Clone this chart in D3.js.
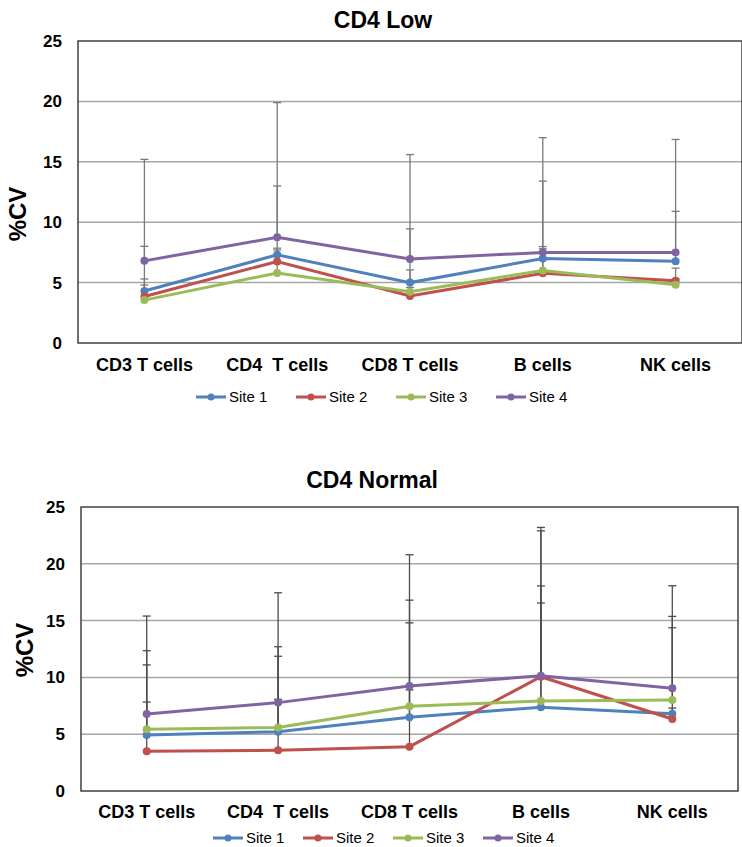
<!DOCTYPE html>
<html>
<head>
<meta charset="utf-8"/>
<script src="https://cdn.jsdelivr.net/npm/d3@7/dist/d3.min.js"></script>
<style>
  html,body { margin:0; padding:0; background:#fff; }
  svg { display:block; font-family:"Liberation Sans", Arial, sans-serif; }
  .xlab { white-space:pre; }
</style>
</head>
<body>
<svg width="742" height="847"></svg>
<script>
// categories + series names
const categories = ["CD3 T cells", "CD4  T cells", "CD8 T cells", "B cells", "NK cells"];
const siteNames  = ["Site 1", "Site 2", "Site 3", "Site 4"];
const siteColors = ["#4f81bd", "#c0504d", "#9bbb59", "#8064a2"];
const yTicks     = [0, 5, 10, 15, 20, 25];

// CD4 Low: %CV per site
const lowSite1 = [4.3, 7.3, 5.0, 7.0, 6.77];
const lowSite2 = [3.85, 6.75, 3.9, 5.77, 5.16];
const lowSite3 = [3.55, 5.8, 4.25, 6.0, 4.83];
const lowSite4 = [6.8, 8.75, 6.95, 7.5, 7.5];
// plus error bars
const lowErr1 = [1.0, 5.7, 4.45, 6.4, 4.13];
const lowErr2 = [4.15, 1.1, 2.15, 2.03, 1.04];
const lowErr3 = [1.25, 1.9, 0.35, 1.98, 0.47];
const lowErr4 = [8.4, 11.15, 8.65, 9.5, 9.35];

// CD4 Normal
const normSite1 = [4.93, 5.22, 6.5, 7.37, 6.8];
const normSite2 = [3.49, 3.58, 3.9, 10.06, 6.34];
const normSite3 = [5.43, 5.6, 7.45, 7.92, 8.01];
const normSite4 = [6.78, 7.78, 9.24, 10.15, 9.04];
const normErr1 = [2.9, 2.85, 2.4, 9.18, 0.5];
const normErr2 = [8.86, 9.12, 12.9, 12.84, 9.03];
const normErr3 = [5.67, 6.26, 7.35, 10.13, 6.36];
const normErr4 = [8.62, 9.67, 11.56, 13.05, 9.03];

const svg = d3.select("svg");

function drawChart(o) {
  const g = svg.append("g");
  const x = d3.scaleBand().domain(categories).range([o.left, o.right]);
  const y = d3.scaleLinear().domain([0, 25]).range([o.bottom, o.top]);
  const cx = d => x(d) + x.bandwidth()/2;

  // title
  g.append("text").attr("x", o.titleX).attr("y", o.titleY)
    .attr("text-anchor","middle").attr("font-size",23).attr("font-weight","bold")
    .text(o.title);

  // grid
  g.selectAll(".grid").data(yTicks.slice(1,-1)).join("line")
    .attr("x1", o.left).attr("x2", o.right)
    .attr("y1", d => y(d)).attr("y2", d => y(d))
    .attr("stroke","#a6a6a6").attr("stroke-width",1.5);

  // y axis labels
  const ya = g.append("g").attr("transform",`translate(${o.left},0)`)
    .call(d3.axisLeft(y).tickValues(yTicks).tickSize(0).tickPadding(16));
  ya.select(".domain").remove();
  ya.selectAll("text").attr("font-size",17).attr("font-weight","bold")
    .attr("font-family","Liberation Sans, Arial, sans-serif").attr("fill","#000");

  // x axis labels
  const xa = g.append("g").attr("transform",`translate(0,${o.bottom})`)
    .call(d3.axisBottom(x).tickSize(0).tickPadding(o.xPad));
  xa.select(".domain").remove();
  xa.selectAll("text").attr("class","xlab").attr("font-size",18).attr("font-weight","bold")
    .attr("font-family","Liberation Sans, Arial, sans-serif").attr("fill","#000");

  // y title
  g.append("text")
    .attr("transform",`translate(${o.yTitleX},${o.yTitleY}) rotate(-90)`)
    .attr("text-anchor","middle").attr("font-size",24).attr("font-weight","bold")
    .text("%CV");

  // plot frame
  g.append("rect").attr("x",o.left).attr("y",o.top)
    .attr("width",o.right-o.left).attr("height",o.bottom-o.top)
    .attr("fill","none").attr("stroke","#404040").attr("stroke-width",1.5);

  // error bars (plus only)
  o.series.forEach((s,i) => {
    const eb = g.append("g").attr("stroke",o.errColor).attr("stroke-width",1.3);
    categories.forEach((c,k) => {
      const v = s[k], top = v + o.errs[i][k];
      eb.append("line").attr("x1",cx(c)).attr("x2",cx(c))
        .attr("y1",y(v)).attr("y2",y(top));
      eb.append("line").attr("x1",cx(c)-4).attr("x2",cx(c)+4)
        .attr("y1",y(top)).attr("y2",y(top));
    });
  });

  // lines + markers
  const line = d3.line().x((d,k) => cx(categories[k])).y(d => y(d));
  o.series.forEach((s,i) => {
    g.append("path").datum(s).attr("d",line).attr("fill","none")
      .attr("stroke",siteColors[i]).attr("stroke-width",3);
    g.selectAll(null).data(s).join("circle")
      .attr("cx",(d,k) => cx(categories[k])).attr("cy",d => y(d)).attr("r",4)
      .attr("fill",siteColors[i]);
  });

  // legend
  const lg = g.append("g").attr("transform",`translate(${o.legX},${o.legY})`);
  siteNames.forEach((n,i) => {
    const it = lg.append("g").attr("transform",`translate(${i*o.legStep},0)`);
    it.append("line").attr("x1",0).attr("x2",30).attr("stroke",siteColors[i]).attr("stroke-width",3);
    it.append("circle").attr("cx",15).attr("r",3.5).attr("fill",siteColors[i]);
    it.append("text").attr("x",33).attr("y",5).attr("font-size",15).text(n);
  });
}

drawChart({
  title:"CD4 Low", titleX:383, titleY:28,
  left:78, right:742, top:41, bottom:343,
  xPad:15, yTitleX:26, yTitleY:214,
  series:[lowSite1, lowSite2, lowSite3, lowSite4],
  errs:[lowErr1, lowErr2, lowErr3, lowErr4],
  errColor:"#7a7a7a",
  legX:196, legY:397, legStep:100
});

drawChart({
  title:"CD4 Normal", titleX:372, titleY:488,
  left:81, right:738, top:507, bottom:791,
  xPad:14, yTitleX:33, yTitleY:650,
  series:[normSite1, normSite2, normSite3, normSite4],
  errs:[normErr1, normErr2, normErr3, normErr4],
  errColor:"#4d4d4d",
  legX:213, legY:838, legStep:90
});
</script>
</body>
</html>
